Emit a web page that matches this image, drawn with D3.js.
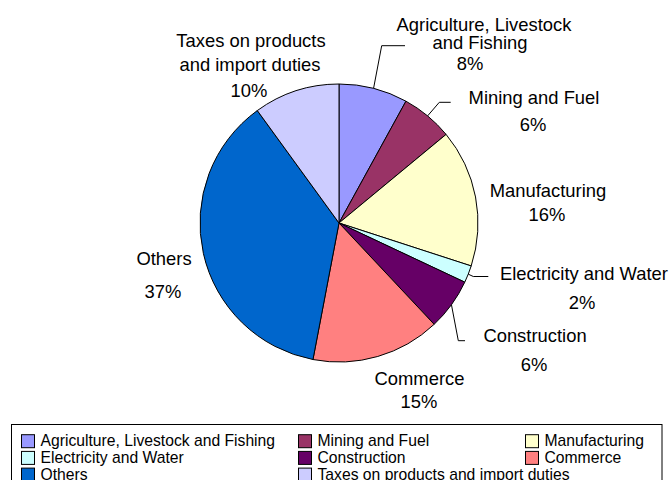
<!DOCTYPE html>
<html>
<head>
<meta charset="utf-8">
<script src="https://cdn.jsdelivr.net/npm/d3@7"></script>
<style>
  html, body { margin: 0; padding: 0; background: #fff; }
  svg { display: block; }
  text { font-family: "Liberation Sans", Arial, sans-serif; fill: #000; }
</style>
</head>
<body>
<svg id="chart" width="672" height="480"></svg>
<script>
// GDP composition by sector (percent)
const categories = [
  "Agriculture, Livestock and Fishing",
  "Mining and Fuel",
  "Manufacturing",
  "Electricity and Water",
  "Construction",
  "Commerce",
  "Others",
  "Taxes on products and import duties"
];
const shares = [8, 6, 16, 2, 6, 15, 37, 10];
const percentLabels = ["8%", "6%", "16%", "2%", "6%", "15%", "37%", "10%"];

// Slice fills
const palette = ["#9999FF", "#993366", "#FFFFCC", "#CCFFFF", "#660066", "#FF8080", "#0066CC", "#CCCCFF"];

// Label layout: wrapped name lines, pct line, optional leader elbow/end
const labelLayout = [
  { lines: [["Agriculture, Livestock", 484, 30.5], ["and Fishing", 480, 48.5]], pct: [470, 70],
    leader: [[381.7, 45.7], [405, 45.7]] },
  { lines: [["Mining and Fuel", 534, 104.3]], pct: [533, 130.5],
    leader: [[439.3, 102.3], [450.7, 102.3]] },
  { lines: [["Manufacturing", 548, 196.7]], pct: [547, 221] },
  { lines: [["Electricity and Water", 584, 280]], pct: [582, 309],
    leader: [[473.3, 276.5], [488.3, 276.5]] },
  { lines: [["Construction", 535, 341.7]], pct: [534, 371],
    leader: [[458.3, 340.7], [465, 340.7]] },
  { lines: [["Commerce", 419.5, 385]], pct: [419, 408] },
  { lines: [["Others", 164, 265]], pct: [163, 298] },
  { lines: [["Taxes on products", 251, 46.5], ["and import duties", 250, 70.5]], pct: [249, 97] }
];

const svg = d3.select("#chart");
const cx = 339, cy = 223, radius = 139;
const labelSize = 18.4;

const data = categories.map((c, i) => ({ name: c, value: shares[i], pct: percentLabels[i], idx: i }));

const pie = d3.pie().value(d => d.value).sort(null).startAngle(0).endAngle(2 * Math.PI);
const arcs = pie(data);
const arc = d3.arc().innerRadius(0).outerRadius(radius);

const g = svg.append("g").attr("transform", `translate(${cx},${cy})`);

g.selectAll("path.slice")
  .data(arcs)
  .join("path")
  .attr("class", "slice")
  .attr("d", arc)
  .attr("fill", d => palette[d.data.idx])
  .attr("stroke", "#000")
  .attr("stroke-width", 1)
  .attr("stroke-linejoin", "round");

// Leader lines start on the rim at each slice's mid-angle
const leaders = svg.append("g");
arcs.forEach(a => {
  const lay = labelLayout[a.data.idx];
  if (!lay.leader) return;
  const mid = (a.startAngle + a.endAngle) / 2;
  const start = [cx + radius * Math.sin(mid), cy - radius * Math.cos(mid)];
  const pts = [start, ...lay.leader];
  leaders.append("path")
    .attr("d", d3.line()(pts))
    .attr("fill", "none")
    .attr("stroke", "#000")
    .attr("stroke-width", 1);
});

// Data labels
const labels = svg.append("g").attr("font-size", labelSize).attr("text-anchor", "middle");
arcs.forEach(a => {
  const lay = labelLayout[a.data.idx];
  lay.lines.forEach(([txt, x, y]) => {
    labels.append("text").attr("x", x).attr("y", y).text(txt);
  });
  labels.append("text").attr("x", lay.pct[0]).attr("y", lay.pct[1]).text(a.data.pct);
});

// Legend
const legendBox = { x: 11.5, y: 424.5, w: 650.5, h: 60 };
svg.append("rect")
  .attr("x", legendBox.x).attr("y", legendBox.y)
  .attr("width", legendBox.w).attr("height", legendBox.h)
  .attr("fill", "#fff").attr("stroke", "#000").attr("stroke-width", 1);

const colX = [21, 298, 525];
const rowY = [440.7, 457.4, 474.1];
const sw = 13;
const legend = svg.append("g").attr("font-size", 15.7);
data.forEach((d, i) => {
  const col = i % 3, row = Math.floor(i / 3);
  const x = colX[col], yc = rowY[row];
  legend.append("rect")
    .attr("x", x + 0.5).attr("y", yc - sw / 2 + 0.5)
    .attr("width", sw).attr("height", sw)
    .attr("fill", palette[d.idx]).attr("stroke", "#000").attr("stroke-width", 1);
  legend.append("text")
    .attr("x", x + 19.5).attr("y", yc + 5.6)
    .text(d.name);
});
</script>
</body>
</html>
